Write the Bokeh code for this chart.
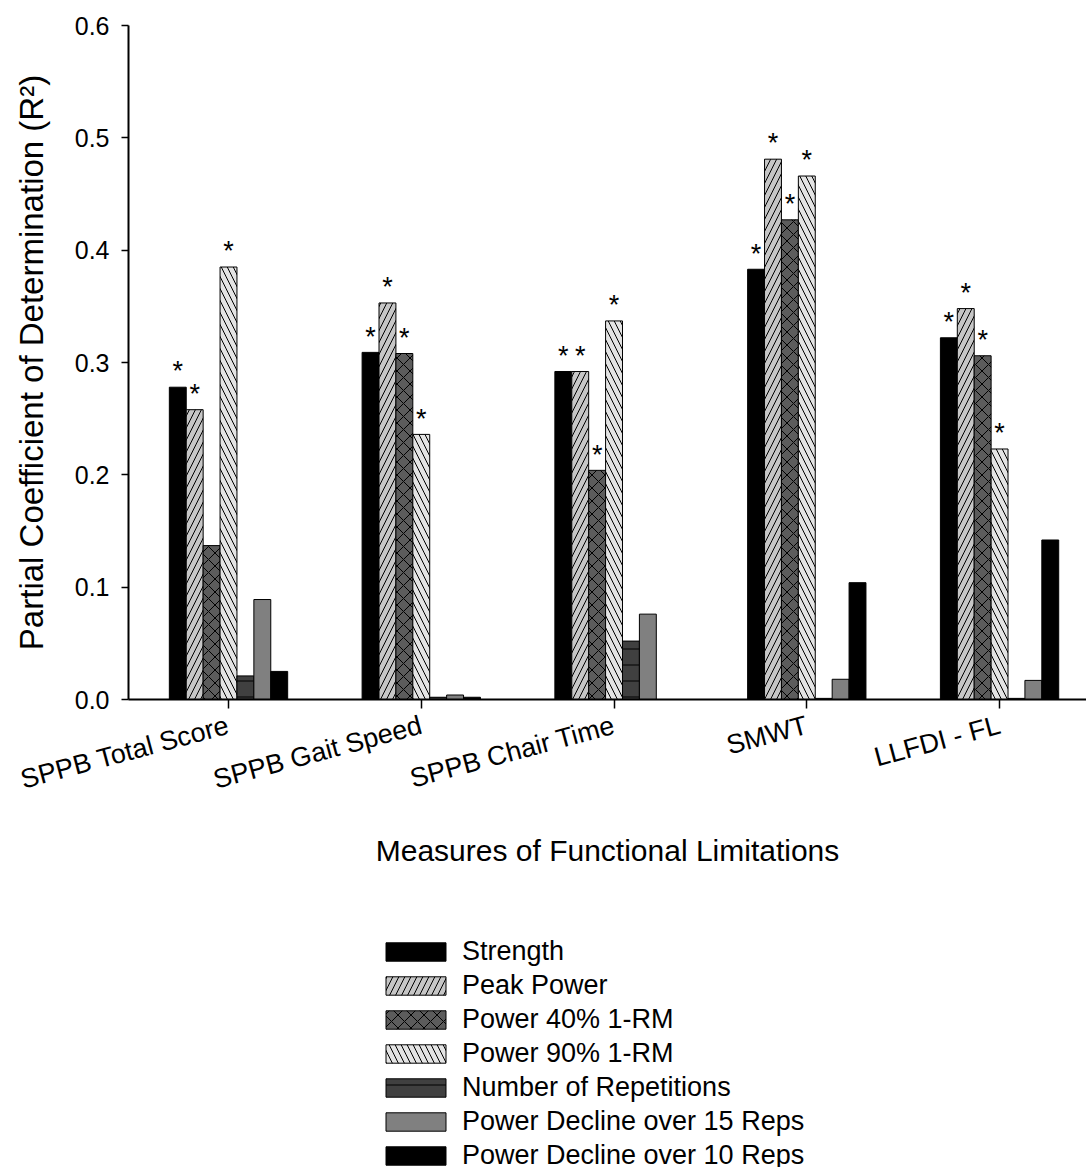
import math
from bokeh.plotting import figure
from bokeh.layouts import column
from bokeh.models import (Range1d, FixedTicker, PrintfTickFormatter, Legend, LegendItem,
                          ColumnDataSource, CustomJSTickFormatter)
from bokeh.core.properties import value
from bokeh.embed import file_html
from bokeh.resources import INLINE

# ---------------- data ----------------
categories = ["SPPB Total Score", "SPPB Gait Speed", "SPPB Chair Time", "SMWT", "LLFDI - FL"]
series_names = ["Strength", "Peak Power", "Power 40% 1-RM", "Power 90% 1-RM",
                "Number of Repetitions", "Power Decline over 15 Reps", "Power Decline over 10 Reps"]
strength = [0.278, 0.309, 0.292, 0.383, 0.322]
peak_power = [0.258, 0.353, 0.292, 0.481, 0.348]
power_40 = [0.137, 0.308, 0.204, 0.427, 0.306]
power_90 = [0.385, 0.236, 0.337, 0.466, 0.223]
repetitions = [0.021, 0.002, 0.052, 0.001, 0.001]
decline_15 = [0.089, 0.004, 0.076, 0.018, 0.017]
decline_10 = [0.025, 0.002, 0.000, 0.104, 0.142]
# significance markers (*)
sig_strength = [True, True, True, True, True]
sig_peak = [True, True, True, True, True]
sig_40 = [False, True, True, True, True]
sig_90 = [True, True, True, True, True]
sig_reps = [False, False, False, False, False]
sig_d15 = [False, False, False, False, False]
sig_d10 = [False, False, False, False, False]
y_ticks = [0.0, 0.1, 0.2, 0.3, 0.4, 0.5, 0.6]

series_values = [strength, peak_power, power_40, power_90, repetitions, decline_15, decline_10]
series_sig = [sig_strength, sig_peak, sig_40, sig_90, sig_reps, sig_d15, sig_d10]

# ---------------- styles ----------------
FONT = "Liberation Sans"
BAR_W = 0.0877
styles = [
    dict(fill_color="black"),
    dict(fill_color="#c6c6c6", hatch_pattern="/", hatch_color="black", hatch_scale=12, hatch_weight=1),
    dict(fill_color="#5c5c5c", hatch_pattern="x", hatch_color="black", hatch_scale=13, hatch_weight=1),
    dict(fill_color="#e4e4e4", hatch_pattern="\\", hatch_color="black", hatch_scale=12, hatch_weight=1),
    dict(fill_color="#404040", hatch_pattern="-", hatch_color="black", hatch_scale=16, hatch_weight=1),
    dict(fill_color="#808080"),
    dict(fill_color="black"),
]

MAIN_H = 930
p = figure(width=1086, height=MAIN_H, output_backend="svg", toolbar_location=None,
           x_range=Range1d(-0.5188, 4.451), y_range=Range1d(0, 0.6),
           min_border_left=128, min_border_right=0, min_border_top=25,
           min_border_bottom=MAIN_H - 699)
p.outline_line_color = None
p.xgrid.grid_line_color = None
p.ygrid.grid_line_color = None

star_x, star_y = [], []
for i, (name, vals, sig, st) in enumerate(zip(series_names, series_values, series_sig, styles)):
    xs = [g + (i - 3) * BAR_W for g in range(len(categories))]
    src = ColumnDataSource(dict(x=xs, top=vals))
    p.vbar(x="x", top="top", bottom=0, width=BAR_W, source=src,
           line_color="black", line_width=1, **st)
    for x, v, s in zip(xs, vals, sig):
        if s:
            star_x.append(x)
            star_y.append(v + 0.014)

p.text(x=star_x, y=star_y, text=["*"] * len(star_x), text_align="center",
       text_baseline="alphabetic", text_font=value(FONT), text_font_size="27px",
       text_color="black")

# axes
xa = p.xaxis[0]
xa.ticker = FixedTicker(ticks=list(range(len(categories))))
xa.formatter = CustomJSTickFormatter(args=dict(labels=categories),
                                     code="const l = labels[Math.round(tick)]; return l === undefined ? '' : l;")
xa.major_label_orientation = math.radians(15)
xa.axis_label = "Measures of Functional Limitations"
ya = p.yaxis[0]
ya.ticker = FixedTicker(ticks=y_ticks)
ya.formatter = PrintfTickFormatter(format="%.1f")
ya.axis_label = "Partial Coefficient of Determination (R²)"

for ax in (xa, ya):
    ax.axis_line_width = 2
    ax.axis_line_color = "black"
    ax.major_tick_line_width = 1.5
    ax.major_tick_line_color = "black"
    ax.major_tick_in = 0
    ax.minor_tick_line_color = None
    ax.major_label_text_font = FONT
    ax.major_label_text_color = "black"
    ax.axis_label_text_font = FONT
    ax.axis_label_text_font_style = "normal"
    ax.axis_label_text_color = "black"

xa.major_tick_out = 9
xa.major_label_text_font_size = "27px"
xa.major_label_standoff = 16
xa.axis_label_standoff = 22
xa.axis_label_text_font_size = "30px"
ya.major_tick_out = 7
ya.major_label_text_font_size = "25px"
ya.major_label_standoff = 12
ya.axis_label_standoff = 22
ya.axis_label_text_font_size = "33px"

# ---------------- legend (separate strip below the chart) ----------------
LEG_H = 1167 - MAIN_H
lf = figure(width=1086, height=LEG_H, output_backend="svg", toolbar_location=None,
            x_range=Range1d(0, 1), y_range=Range1d(0, 1),
            x_axis_location=None, y_axis_location=None,
            min_border_left=0, min_border_right=0, min_border_top=0, min_border_bottom=0)
lf.outline_line_color = None
lf.xgrid.grid_line_color = None
lf.ygrid.grid_line_color = None

items = []
for name, st in zip(series_names, styles):
    # legend proxy (kept outside the visible range of this strip)
    r = lf.vbar(x=[-5], top=[0], bottom=0, width=BAR_W, line_color="black", line_width=1, **st)
    items.append(LegendItem(label=name, renderers=[r]))

legend = Legend(items=items, location=(250, -4), orientation="vertical",
                glyph_width=75, glyph_height=23, label_height=18, label_standoff=9,
                spacing=3, padding=0, margin=0,
                border_line_alpha=0, background_fill_alpha=0,
                label_text_font=FONT, label_text_font_size="27px", label_text_color="black")
lf.add_layout(legend, "center")

layout = column(p, lf, spacing=0)
open("out.html", "w").write(file_html(layout, INLINE))
